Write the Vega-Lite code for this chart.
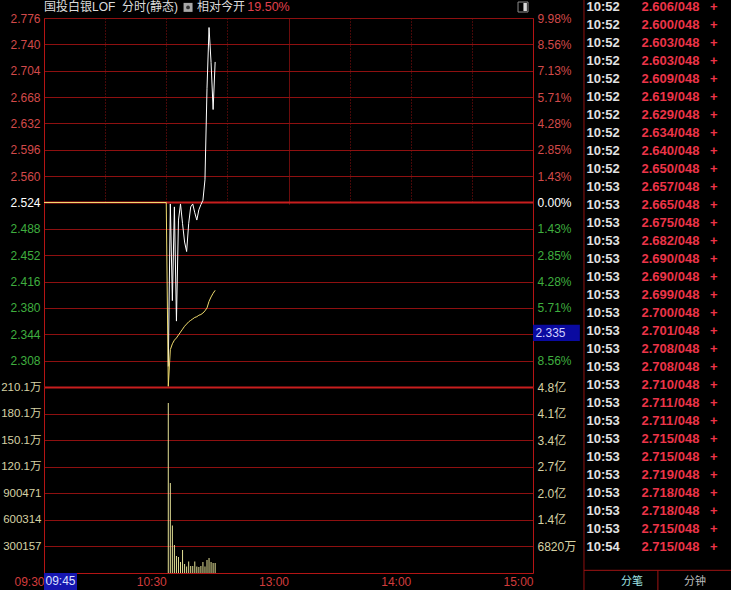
{
"$schema": "https://vega.github.io/schema/vega-lite/v6.json",
"width": 489,
"height": 555,
"autosize": {"type": "none"},
"padding": {"left": 44, "top": 18, "right": 198, "bottom": 17},
"background": "#000000",
"config": {
  "view": {"stroke": null},
  "axis": {"labelFont": "Liberation Sans, Noto Sans CJK SC", "labelFontSize": 12, "ticks": false, "tickSize": 0, "title": null, "domainColor": "#b41414", "domainWidth": 1, "labelBound": false, "labelFlush": false, "labelOverlap": false}
},
"datasets": {
  "price": [
    {"m": 61, "p": 2.300}, {"m": 62, "p": 2.522}, {"m": 63, "p": 2.390}, {"m": 64, "p": 2.518},
    {"m": 65, "p": 2.362}, {"m": 66, "p": 2.500}, {"m": 67, "p": 2.522}, {"m": 68, "p": 2.495},
    {"m": 69, "p": 2.470}, {"m": 70, "p": 2.457}, {"m": 71, "p": 2.495}, {"m": 72, "p": 2.518},
    {"m": 73, "p": 2.522}, {"m": 74, "p": 2.510}, {"m": 75, "p": 2.500}, {"m": 76, "p": 2.514},
    {"m": 77, "p": 2.521}, {"m": 78, "p": 2.527}, {"m": 79, "p": 2.555}, {"m": 80, "p": 2.680},
    {"m": 81, "p": 2.763}, {"m": 82, "p": 2.715}, {"m": 83, "p": 2.651}, {"m": 84, "p": 2.716}
  ],
  "avg": [
    {"m": 0, "a": 2.524}, {"m": 60, "a": 2.524}, {"m": 61, "a": 2.273}, {"m": 62, "a": 2.323},
    {"m": 63, "a": 2.331}, {"m": 64, "a": 2.336}, {"m": 65, "a": 2.339}, {"m": 66, "a": 2.343},
    {"m": 67, "a": 2.347}, {"m": 68, "a": 2.351}, {"m": 69, "a": 2.355}, {"m": 70, "a": 2.358},
    {"m": 71, "a": 2.361}, {"m": 72, "a": 2.363}, {"m": 73, "a": 2.365}, {"m": 74, "a": 2.367},
    {"m": 75, "a": 2.368}, {"m": 76, "a": 2.370}, {"m": 77, "a": 2.371}, {"m": 78, "a": 2.373},
    {"m": 79, "a": 2.376}, {"m": 80, "a": 2.380}, {"m": 81, "a": 2.389}, {"m": 82, "a": 2.395},
    {"m": 83, "a": 2.400}, {"m": 84, "a": 2.404}
  ],
  "vol": [
    {"m": 61, "v": 1920000}, {"m": 62, "v": 1016000}, {"m": 63, "v": 537000}, {"m": 64, "v": 316000},
    {"m": 65, "v": 192000}, {"m": 66, "v": 181000}, {"m": 67, "v": 124000}, {"m": 68, "v": 260000},
    {"m": 69, "v": 102000}, {"m": 70, "v": 73000}, {"m": 71, "v": 130000}, {"m": 72, "v": 79000},
    {"m": 73, "v": 79000}, {"m": 74, "v": 130000}, {"m": 75, "v": 73000}, {"m": 76, "v": 68000},
    {"m": 77, "v": 79000}, {"m": 78, "v": 124000}, {"m": 79, "v": 73000}, {"m": 80, "v": 147000},
    {"m": 81, "v": 169000}, {"m": 82, "v": 124000}, {"m": 83, "v": 113000}, {"m": 84, "v": 113000}
  ],
  "ticks": [
    {"row": 0, "time": "10:52", "price": 2.606, "lots": 48, "side": "+"},
    {"row": 1, "time": "10:52", "price": 2.600, "lots": 48, "side": "+"},
    {"row": 2, "time": "10:52", "price": 2.603, "lots": 48, "side": "+"},
    {"row": 3, "time": "10:52", "price": 2.603, "lots": 48, "side": "+"},
    {"row": 4, "time": "10:52", "price": 2.609, "lots": 48, "side": "+"},
    {"row": 5, "time": "10:52", "price": 2.619, "lots": 48, "side": "+"},
    {"row": 6, "time": "10:52", "price": 2.629, "lots": 48, "side": "+"},
    {"row": 7, "time": "10:52", "price": 2.634, "lots": 48, "side": "+"},
    {"row": 8, "time": "10:52", "price": 2.640, "lots": 48, "side": "+"},
    {"row": 9, "time": "10:52", "price": 2.650, "lots": 48, "side": "+"},
    {"row": 10, "time": "10:53", "price": 2.657, "lots": 48, "side": "+"},
    {"row": 11, "time": "10:53", "price": 2.665, "lots": 48, "side": "+"},
    {"row": 12, "time": "10:53", "price": 2.675, "lots": 48, "side": "+"},
    {"row": 13, "time": "10:53", "price": 2.682, "lots": 48, "side": "+"},
    {"row": 14, "time": "10:53", "price": 2.690, "lots": 48, "side": "+"},
    {"row": 15, "time": "10:53", "price": 2.690, "lots": 48, "side": "+"},
    {"row": 16, "time": "10:53", "price": 2.699, "lots": 48, "side": "+"},
    {"row": 17, "time": "10:53", "price": 2.700, "lots": 48, "side": "+"},
    {"row": 18, "time": "10:53", "price": 2.701, "lots": 48, "side": "+"},
    {"row": 19, "time": "10:53", "price": 2.708, "lots": 48, "side": "+"},
    {"row": 20, "time": "10:53", "price": 2.708, "lots": 48, "side": "+"},
    {"row": 21, "time": "10:53", "price": 2.710, "lots": 48, "side": "+"},
    {"row": 22, "time": "10:53", "price": 2.711, "lots": 48, "side": "+"},
    {"row": 23, "time": "10:53", "price": 2.711, "lots": 48, "side": "+"},
    {"row": 24, "time": "10:53", "price": 2.715, "lots": 48, "side": "+"},
    {"row": 25, "time": "10:53", "price": 2.715, "lots": 48, "side": "+"},
    {"row": 26, "time": "10:53", "price": 2.719, "lots": 48, "side": "+"},
    {"row": 27, "time": "10:53", "price": 2.718, "lots": 48, "side": "+"},
    {"row": 28, "time": "10:53", "price": 2.718, "lots": 48, "side": "+"},
    {"row": 29, "time": "10:53", "price": 2.715, "lots": 48, "side": "+"},
    {"row": 30, "time": "10:54", "price": 2.715, "lots": 48, "side": "+"}
  ]
},
"layer": [
  {
    "layer": [
      {
        "data": {"name": "price"},
        "mark": {"type": "line", "color": "#ffffff", "strokeWidth": 1},
        "encoding": {
          "x": {"field": "m", "type": "quantitative", "scale": {"domain": [0, 240], "nice": false, "zero": false, "padding": 0}, "axis": null},
          "y": {"field": "p", "type": "quantitative", "scale": {"domain": [2.272, 2.776], "range": [369, 0], "nice": false, "zero": false},
            "axis": {"orient": "left", "values": [2.308, 2.344, 2.38, 2.416, 2.452, 2.488, 2.524, 2.56, 2.596, 2.632, 2.668, 2.704, 2.74, 2.776],
              "format": ".3f", "labelPadding": 4,
              "labelColor": {"condition": [{"test": "datum.value > 2.5245", "value": "#d24a4a"}, {"test": "datum.value < 2.5235", "value": "#3fae3f"}], "value": "#ffffff"},
              "grid": true,
              "gridColor": {"condition": {"test": "abs(datum.value - 2.524) < 0.0005", "value": "#c81e1e"}, "value": "#8e1010"},
              "gridWidth": {"condition": {"test": "abs(datum.value - 2.524) < 0.0005", "value": 2}, "value": 1},
              "domain": true}}
        }
      },
      {
        "data": {"name": "avg"},
        "mark": {"type": "line", "color": "#f0dc6e", "strokeWidth": 1},
        "encoding": {
          "x": {"field": "m", "type": "quantitative", "axis": null},
          "y": {"field": "a", "type": "quantitative",
            "axis": {"orient": "right", "values": [2.308, 2.38, 2.416, 2.452, 2.488, 2.524, 2.56, 2.596, 2.632, 2.668, 2.704, 2.74, 2.776],
              "labelExpr": "format(abs(datum.value - 2.524) / 2.524 * 100, '.2f') + '%'", "labelPadding": 4,
              "labelColor": {"condition": [{"test": "datum.value > 2.5245", "value": "#d24a4a"}, {"test": "datum.value < 2.5235", "value": "#3fae3f"}], "value": "#ffffff"},
              "grid": false, "domain": true}}
        }
      },
      {
        "data": {"values": [{}]},
        "mark": {"type": "rect", "color": "#0a0aa0"},
        "encoding": {
          "x": {"datum": 240, "type": "quantitative", "axis": null},
          "x2": {"datum": 263},
          "y": {"datum": 2.335, "type": "quantitative", "axis": null},
          "y2": {"datum": 2.357}
        }
      },
      {
        "data": {"values": [{}]},
        "mark": {"type": "text", "text": "2.335", "align": "left", "baseline": "middle", "font": "Liberation Sans", "fontSize": 12, "color": "#d0d0ff"},
        "encoding": {
          "x": {"datum": 241.2, "type": "quantitative", "axis": null},
          "y": {"datum": 2.346, "type": "quantitative", "axis": null}
        }
      },
      {
        "data": {"values": [{}]},
        "mark": {"type": "text", "text": "国投白银LOF", "align": "left", "baseline": "middle", "font": "Liberation Sans, Noto Sans CJK SC", "fontSize": 12, "color": "#dcdcdc"},
        "encoding": {
          "x": {"datum": 0, "type": "quantitative", "axis": null},
          "y": {"datum": 2.7905, "type": "quantitative", "axis": null}
        }
      },
      {
        "data": {"values": [{}]},
        "mark": {"type": "text", "text": "分时(静态)", "align": "left", "baseline": "middle", "font": "Liberation Sans, Noto Sans CJK SC", "fontSize": 12, "color": "#dcdcdc"},
        "encoding": {
          "x": {"datum": 38.3, "type": "quantitative", "axis": null},
          "y": {"datum": 2.7905, "type": "quantitative", "axis": null}
        }
      },
      {
        "data": {"values": [{}]},
        "mark": {"type": "point", "shape": "square", "filled": true, "size": 81, "color": "#f0f0f0"},
        "encoding": {
          "x": {"datum": 70.7, "type": "quantitative", "axis": null},
          "y": {"datum": 2.7905, "type": "quantitative", "axis": null}
        }
      },
      {
        "data": {"values": [{}]},
        "mark": {"type": "point", "shape": "circle", "filled": true, "size": 14, "color": "#000000"},
        "encoding": {
          "x": {"datum": 70.7, "type": "quantitative", "axis": null},
          "y": {"datum": 2.7905, "type": "quantitative", "axis": null}
        }
      },
      {
        "data": {"values": [{}]},
        "mark": {"type": "text", "text": "相对今开", "align": "left", "baseline": "middle", "font": "Liberation Sans, Noto Sans CJK SC", "fontSize": 12, "color": "#dcdcdc"},
        "encoding": {
          "x": {"datum": 75.1, "type": "quantitative", "axis": null},
          "y": {"datum": 2.7905, "type": "quantitative", "axis": null}
        }
      },
      {
        "data": {"values": [{}]},
        "mark": {"type": "text", "text": "19.50%", "align": "left", "baseline": "middle", "font": "Liberation Sans", "fontSize": 12.5, "color": "#e0404c"},
        "encoding": {
          "x": {"datum": 99.8, "type": "quantitative", "axis": null},
          "y": {"datum": 2.7905, "type": "quantitative", "axis": null}
        }
      },
      {
        "data": {"values": [{}]},
        "mark": {"type": "point", "shape": "square", "filled": false, "size": 100, "color": "#c8c8c8", "strokeWidth": 1},
        "encoding": {
          "x": {"datum": 235.1, "type": "quantitative", "axis": null},
          "y": {"datum": 2.791, "type": "quantitative", "axis": null}
        }
      },
      {
        "data": {"values": [{}]},
        "mark": {"type": "rect", "color": "#d8d8d8"},
        "encoding": {
          "x": {"datum": 235.3, "type": "quantitative", "axis": null},
          "x2": {"datum": 237.0},
          "y": {"datum": 2.7965, "type": "quantitative", "axis": null},
          "y2": {"datum": 2.7855}
        }
      }
    ],
    "resolve": {"axis": {"y": "independent"}}
  },
  {
    "layer": [
      {
        "data": {"name": "vol"},
        "mark": {"type": "bar", "color": "#e4e096", "size": 1},
        "encoding": {
          "x": {"field": "m", "type": "quantitative", "scale": {"domain": [0, 240], "nice": false, "zero": false, "padding": 0},
            "axis": {"orient": "bottom", "title": null, "values": [0, 30, 60, 90, 120, 150, 180, 210, 240],
              "labelExpr": "datum.value == 0 ? '09:30' : datum.value == 60 ? '10:30' : datum.value == 120 ? '13:00' : datum.value == 180 ? '14:00' : datum.value == 240 ? '15:00' : ''",
              "labelAlign": "right", "labelBaseline": "top", "labelPadding": 3, "labelColor": "#d23c3c",
              "grid": true, "gridColor": "#8e1010",
              "gridDash": {"condition": {"test": "datum.value == 120", "value": [1, 0]}, "value": [1, 2]},
              "domain": true}},
          "y": {"field": "v", "type": "quantitative", "stack": null, "scale": {"domain": [0, 2101099], "range": [555, 369], "nice": false, "zero": false},
            "axis": {"orient": "left", "values": [300157, 600314, 900471, 1200628, 1500785, 1800942, 2101099],
              "labelExpr": "datum.value < 1000000 ? format(datum.value, 'd') : format(datum.value / 10000, '.1f') + '万'",
              "labelPadding": 3, "labelFontSize": 11.5, "labelColor": "#d6d2a4",
              "grid": true,
              "gridColor": {"condition": {"test": "datum.value > 2100000", "value": "#c81e1e"}, "value": "#8e1010"},
              "gridWidth": {"condition": {"test": "datum.value > 2100000", "value": 2}, "value": 1},
              "domain": true}}
        }
      },
      {
        "data": {"name": "vol"},
        "mark": {"type": "bar", "color": "#e4e096", "size": 1, "opacity": 0},
        "encoding": {
          "x": {"field": "m", "type": "quantitative"},
          "y": {"field": "v", "type": "quantitative", "stack": null,
            "axis": {"orient": "right", "values": [300157, 600314, 900471, 1200628, 1500785, 1800942, 2101099],
              "labelExpr": "['6820万','1.4亿','2.0亿','2.7亿','3.4亿','4.1亿','4.8亿'][round(datum.value / 300157) - 1]",
              "labelPadding": 4, "labelColor": "#d6d2a4", "grid": false, "domain": true}}
        }
      },
      {
        "data": {"values": [{}]},
        "mark": {"type": "rect", "color": "#1616b0"},
        "encoding": {
          "x": {"datum": 0, "type": "quantitative"},
          "x2": {"datum": 16.2},
          "y": {"datum": 0, "type": "quantitative", "axis": null},
          "y2": {"datum": -192000}
        }
      },
      {
        "data": {"values": [{}]},
        "mark": {"type": "text", "text": "09:45", "align": "center", "baseline": "middle", "font": "Liberation Sans", "fontSize": 12, "color": "#dce0ff"},
        "encoding": {
          "x": {"datum": 8.1, "type": "quantitative"},
          "y": {"datum": -92000, "type": "quantitative", "axis": null}
        }
      }
    ],
    "resolve": {"axis": {"y": "independent"}}
  },
  {
    "data": {"name": "ticks"},
    "layer": [
      {
        "mark": {"type": "text", "align": "left", "baseline": "middle", "font": "Liberation Sans", "fontSize": 13, "fontWeight": "bold", "color": "#e2e2e2"},
        "encoding": {
          "x": {"datum": 0, "type": "quantitative", "scale": {"domain": [0, 21], "range": [542.5, 689.5], "nice": false, "zero": false}, "axis": null},
          "y": {"field": "row", "type": "quantitative", "scale": {"domain": [0, 30], "range": [-11.4, 528.9], "nice": false, "zero": false}, "axis": null},
          "text": {"field": "time"}
        }
      },
      {
        "mark": {"type": "text", "align": "left", "baseline": "middle", "font": "Liberation Sans", "fontSize": 13, "fontWeight": "bold", "color": "#ec3448"},
        "encoding": {
          "x": {"datum": 7.86, "type": "quantitative", "axis": null},
          "y": {"field": "row", "type": "quantitative", "axis": null},
          "text": {"field": "price", "format": ".3f"}
        }
      },
      {
        "mark": {"type": "text", "text": "/", "align": "left", "baseline": "middle", "font": "Liberation Sans", "fontSize": 13, "fontWeight": "bold", "color": "#ec3448"},
        "encoding": {
          "x": {"datum": 12.5, "type": "quantitative", "axis": null},
          "y": {"field": "row", "type": "quantitative", "axis": null}
        }
      },
      {
        "mark": {"type": "text", "align": "left", "baseline": "middle", "font": "Liberation Sans", "fontSize": 13, "fontWeight": "bold", "color": "#ec3448"},
        "encoding": {
          "x": {"datum": 13.05, "type": "quantitative", "axis": null},
          "y": {"field": "row", "type": "quantitative", "axis": null},
          "text": {"field": "lots", "format": "03d"}
        }
      },
      {
        "mark": {"type": "text", "align": "left", "baseline": "middle", "font": "Liberation Sans", "fontSize": 13, "fontWeight": "bold", "color": "#ec3448"},
        "encoding": {
          "x": {"datum": 17.64, "type": "quantitative", "axis": null},
          "y": {"field": "row", "type": "quantitative", "axis": null},
          "text": {"field": "side"}
        }
      },
      {
        "data": {"values": [{}]},
        "mark": {"type": "rule", "color": "#8e1010", "strokeWidth": 1},
        "encoding": {
          "x": {"datum": -0.36, "type": "quantitative", "axis": null},
          "y": {"datum": -1.5, "type": "quantitative", "axis": null},
          "y2": {"datum": 33}
        }
      },
      {
        "data": {"values": [{}]},
        "mark": {"type": "rule", "color": "#a01414", "strokeWidth": 1},
        "encoding": {
          "x": {"datum": -0.36, "type": "quantitative", "axis": null},
          "x2": {"datum": 21.5},
          "y": {"datum": 31.3, "type": "quantitative", "axis": null}
        }
      },
      {
        "data": {"values": [{}]},
        "mark": {"type": "rule", "color": "#a01414", "strokeWidth": 1},
        "encoding": {
          "x": {"datum": 10.2, "type": "quantitative", "axis": null},
          "y": {"datum": 31.3, "type": "quantitative", "axis": null},
          "y2": {"datum": 33}
        }
      },
      {
        "data": {"values": [{}]},
        "mark": {"type": "text", "text": "分笔", "align": "center", "baseline": "middle", "font": "Noto Sans CJK SC", "fontSize": 11, "color": "#9fe3e3"},
        "encoding": {
          "x": {"datum": 6.5, "type": "quantitative", "axis": null},
          "y": {"datum": 31.95, "type": "quantitative", "axis": null}
        }
      },
      {
        "data": {"values": [{}]},
        "mark": {"type": "text", "text": "分钟", "align": "center", "baseline": "middle", "font": "Noto Sans CJK SC", "fontSize": 11, "color": "#bdbdbd"},
        "encoding": {
          "x": {"datum": 15.5, "type": "quantitative", "axis": null},
          "y": {"datum": 31.95, "type": "quantitative", "axis": null}
        }
      }
    ]
  }
],
"resolve": {"scale": {"x": "independent", "y": "independent"}, "axis": {"x": "independent", "y": "independent"}}
}
